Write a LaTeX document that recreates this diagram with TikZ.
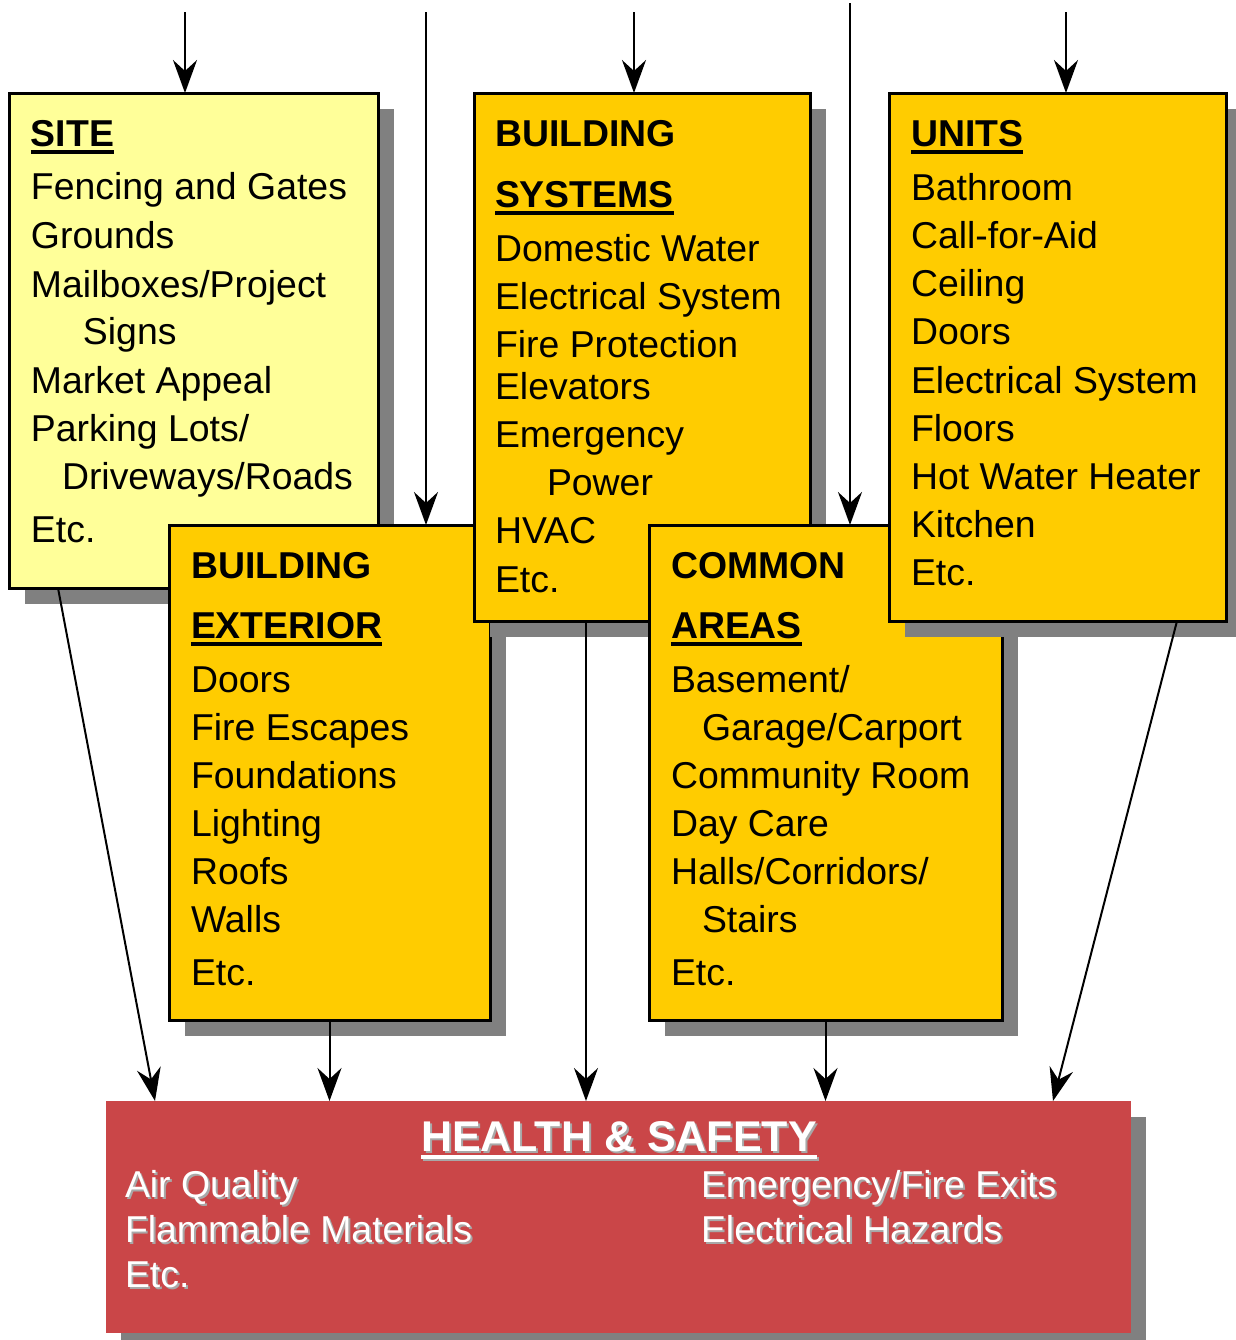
\documentclass[tikz,border=0pt]{standalone}
\usepackage{fontspec}
\setmainfont{Liberation Sans}
\usetikzlibrary{shadows,arrows.meta}
\definecolor{lyel}{HTML}{FFFF99}
\definecolor{gold}{HTML}{FFCC00}
\definecolor{hsred}{HTML}{CA4648}
\definecolor{shgray}{HTML}{808080}
\definecolor{txtsh}{HTML}{A8A8A8}
\newcommand\myul[1]{\setbox0\hbox{#1}\rlap{\rule[-3.8pt]{\wd0}{2pt}}\box0}
\newcommand\shd[1]{\rlap{\hspace{1pt}\raisebox{-1pt}{\color{txtsh}#1}}{\color{white}#1}}
\begin{document}
\begin{tikzpicture}[x=0.5pt,y=-0.5pt,
  box/.style={draw, line width=1.5pt, inner sep=0pt, outer sep=0pt,
    drop shadow={shadow xshift=8pt,shadow yshift=-8pt,fill=shgray,opacity=1}},
  redbox/.style={fill=hsred, inner sep=0pt, outer sep=0pt,
    drop shadow={shadow xshift=7.5pt,shadow yshift=-8pt,fill=shgray,opacity=1}},
  txt/.style={anchor=base west, inner sep=0pt, outer sep=0pt, font=\fontsize{18.7}{22}\selectfont},
  ttl/.style={txt, font=\fontsize{18.7}{22}\selectfont\bfseries},
  arr/.style={line width=1pt, -{Stealth[length=16.5pt,width=12pt,inset=5.5pt]}}]
\useasboundingbox (0,0) rectangle (1236,1340);

% SITE
\node[box, fill=lyel, minimum width=184.5pt, minimum height=247.5pt] (site) at (193.5,340.5) {};
\node[ttl] (s0) at (31,146) {\myul{SITE}};
\node[txt] (s1) at (31,199) {Fencing and Gates};
\node[txt] (s2) at (31,248) {Grounds};
\node[txt] (s3) at (31,297) {Mailboxes/Project};
\node[txt] (s4) at (83,344) {Signs};
\node[txt] (s5) at (31,393) {Market Appeal};
\node[txt] (s6) at (31,441) {Parking Lots/};
\node[txt] (s7) at (62,489) {Driveways/Roads};
\node[txt] (s8) at (31,542) {Etc.};

% BUILDING EXTERIOR
\node[box, fill=gold, minimum width=160.5pt, minimum height=247.5pt] (be) at (329.5,772.5) {};
\node[ttl] (e0) at (191,578) {BUILDING};
\node[ttl] (e1) at (191,638) {\myul{EXTERIOR}};
\node[txt] (e2) at (191,692) {Doors};
\node[txt] (e3) at (191,740) {Fire Escapes};
\node[txt] (e4) at (191,788) {Foundations};
\node[txt] (e5) at (191,836) {Lighting};
\node[txt] (e6) at (191,884) {Roofs};
\node[txt] (e7) at (191,932) {Walls};
\node[txt] (e8) at (191,985) {Etc.};

% BUILDING SYSTEMS
\node[box, fill=gold, minimum width=168pt, minimum height=264pt] (bs) at (642,357) {};
\node[ttl] (b0) at (495,146) {BUILDING};
\node[ttl] (b1) at (495,207) {\myul{SYSTEMS}};
\node[txt] (b2) at (495,261) {Domestic Water};
\node[txt] (b3) at (495,309) {Electrical System};
\node[txt] (b4) at (495,357) {Fire Protection};
\node[txt] (b5) at (495,399) {Elevators};
\node[txt] (b6) at (495,447) {Emergency};
\node[txt] (b7) at (547,495) {Power};
\node[txt] (b8) at (495,543) {HVAC};
\node[txt] (b9) at (495,592) {Etc.};

% COMMON AREAS
\node[box, fill=gold, minimum width=176.5pt, minimum height=247.5pt] (ca) at (825.5,772.5) {};
\node[ttl] (c0) at (671,578) {COMMON};
\node[ttl] (c1) at (671,638) {\myul{AREAS}};
\node[txt] (c2) at (671,692) {Basement/};
\node[txt] (c3) at (702,740) {Garage/Carport};
\node[txt] (c4) at (671,788) {Community Room};
\node[txt] (c5) at (671,836) {Day Care};
\node[txt] (c6) at (671,884) {Halls/Corridors/};
\node[txt] (c7) at (702,932) {Stairs};
\node[txt] (c8) at (671,985) {Etc.};

% UNITS
\node[box, fill=gold, minimum width=168.5pt, minimum height=264pt] (un) at (1057.5,357) {};
\node[ttl] (u0) at (911,146) {\myul{UNITS}};
\node[txt] (u1) at (911,200) {Bathroom};
\node[txt] (u2) at (911,248) {Call-for-Aid};
\node[txt] (u3) at (911,296) {Ceiling};
\node[txt] (u4) at (911,344) {Doors};
\node[txt] (u5) at (911,393) {Electrical System};
\node[txt] (u6) at (911,441) {Floors};
\node[txt] (u7) at (911,489) {Hot Water Heater};
\node[txt] (u8) at (911,537) {Kitchen};
\node[txt] (u9) at (911,585) {Etc.};

% HEALTH & SAFETY
\node[redbox, minimum width=512.5pt, minimum height=116pt] (hs) at (618.5,1217) {};
\node[anchor=base, inner sep=0pt, font=\fontsize{21.5}{25}\selectfont\bfseries] (h0) at (619,1151) {\shd{\myul{HEALTH \& SAFETY}}};
\node[txt] (h1) at (125,1197) {\shd{Air Quality}};
\node[txt] (h2) at (125,1242) {\shd{Flammable Materials}};
\node[txt] (h3) at (125,1287) {\shd{Etc.}};
\node[txt] (h4) at (701,1197) {\shd{Emergency/Fire Exits}};
\node[txt] (h5) at (701,1242) {\shd{Electrical Hazards}};

% incoming arrows
\coordinate (in1) at (185,12);
\coordinate (in2) at (426,12);
\coordinate (in3) at (634,12);
\coordinate (in4) at (850,3);
\coordinate (in5) at (1066,12);
\draw[arr] (in1) -- (in1 |- site.north);
\draw[arr] (in2) -- (in2 |- be.north);
\draw[arr] (in3) -- (in3 |- bs.north);
\draw[arr] (in4) -- (in4 |- ca.north);
\draw[arr] (in5) -- (in5 |- un.north);

% outgoing arrows
\draw[arr] ([xshift=24.5pt]site.south west) -- ([xshift=24.5pt]hs.north west);
\draw[arr] (be.south) -- (be.south |- hs.north);
\draw[arr] ([xshift=56pt]bs.south west) coordinate (o3) -- (o3 |- hs.north);
\draw[arr] (ca.south) -- (ca.south |- hs.north);
\draw[arr] ([xshift=144pt]un.south west) -- ([xshift=-39pt]hs.north east);
\end{tikzpicture}
\end{document}
